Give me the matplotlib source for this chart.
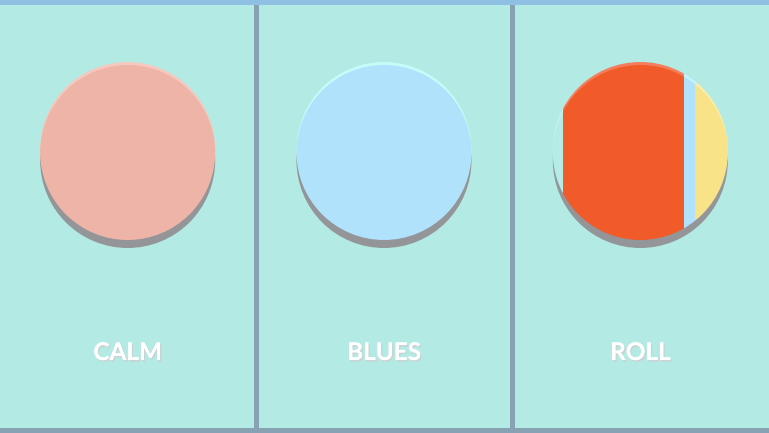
import matplotlib
matplotlib.use("Agg")
import matplotlib.pyplot as plt
from matplotlib.patches import Circle, Rectangle
import matplotlib.patheffects as pe

# ---- data ----
labels = ["CALM", "BLUES", "ROLL"]
face_colors = ["#eeb4a7", "#b0e2fc", None]
rim_colors = ["#f5c9c0", "#c6fbf9", None]
# ROLL stripes: fraction of diameter (left to right) and colours
roll_fracs = [0.06, 0.69, 0.06, 0.19]
roll_colors = ["#b6ece6", "#f15a29", "#b0e2fc", "#f8e388"]
roll_rims = ["#c8f4ef", "#f47d5c", "#c6f4fb", "#fbeeaa"]

W, H = 769, 433
BG = "#b3eae3"
SEP = "#87a2b3"
TOP = "#8fbfe2"
SHADOW = "#939598"

fig = plt.figure(figsize=(W / 100, H / 100), dpi=100)
ax = fig.add_axes([0, 0, 1, 1])
ax.set_xlim(0, W)
ax.set_ylim(H, 0)
ax.axis("off")
fig.patch.set_facecolor(BG)
ax.add_patch(Rectangle((0, 0), W, H, color=BG, zorder=0))

panel_w = W / 3
r = 87.5
cy = 152.5
rim_off = 3
sh_off = 8

for i, lab in enumerate(labels):
    cx = panel_w * i + panel_w / 2 - 0.5
    ax.add_patch(Circle((cx, cy + sh_off), r, color=SHADOW, lw=0, zorder=1))
    if face_colors[i] is not None:
        ax.add_patch(Circle((cx, cy - rim_off), r, color=rim_colors[i], lw=0, zorder=2))
        ax.add_patch(Circle((cx, cy), r, color=face_colors[i], lw=0, zorder=3))
    else:
        rimclip = Circle((cx, cy - rim_off), r, transform=ax.transData)
        faceclip = Circle((cx, cy), r, transform=ax.transData)
        x0 = cx - r
        for frac, fc, rc in zip(roll_fracs, roll_colors, roll_rims):
            w = frac * 2 * r
            p1 = Rectangle((x0, cy - rim_off - r - 1), w, 2 * r + 2, color=rc, lw=0, zorder=2)
            ax.add_patch(p1)
            p1.set_clip_path(rimclip)
            p2 = Rectangle((x0, cy - r - 1), w, 2 * r + 2, color=fc, lw=0, zorder=3)
            ax.add_patch(p2)
            p2.set_clip_path(faceclip)
            x0 += w
    t = ax.text(cx, 352.5, lab, color="white", fontsize=17.5, fontweight="bold",
                family=["Lato", "DejaVu Sans"], ha="center", va="center", zorder=5)
    t.set_path_effects([pe.withSimplePatchShadow(offset=(1, -1.2), shadow_rgbFace="#c9d3d3", alpha=1.0),
                        pe.Normal()])

# separators and borders
for xs in [256.5, 512.5]:
    ax.add_patch(Rectangle((xs - 2.5, 0), 5, H, color=SEP, lw=0, zorder=6))
ax.add_patch(Rectangle((0, 0), W, 5, color=TOP, lw=0, zorder=7))
ax.add_patch(Rectangle((0, H - 5), W, 5, color=SEP, lw=0, zorder=7))

fig.savefig("out.png", dpi=100, facecolor=BG)
